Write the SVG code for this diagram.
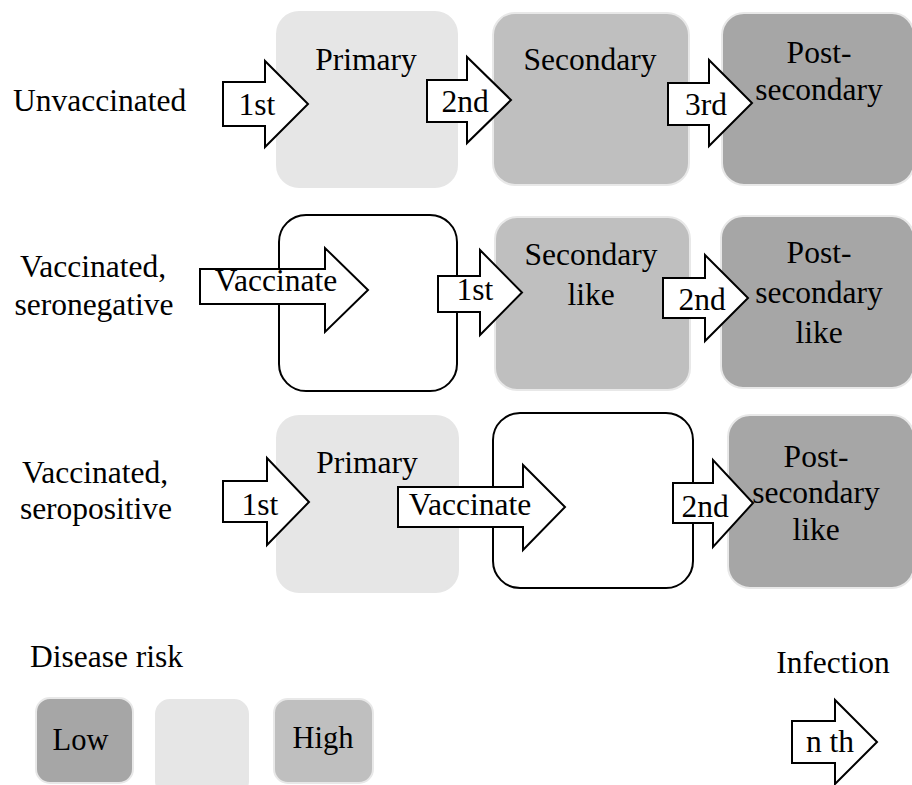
<svg xmlns="http://www.w3.org/2000/svg" width="912" height="785" viewBox="0 0 912 785" font-family="'Liberation Serif', serif" font-size="31.5">
<style>
.c{text-anchor:middle}
.lt{fill:#e6e6e6;stroke:#e6e6e6;stroke-width:2}
.md{fill:#bfbfbf;stroke:#e8e8e8;stroke-width:2}
.dk{fill:#a6a6a6;stroke:#e8e8e8;stroke-width:2}
.wh{fill:#fff;stroke:#000;stroke-width:2}
.ar{fill:#fff;stroke:#000;stroke-width:2;stroke-linejoin:miter}
</style>
<rect width="912" height="785" fill="#fff"/>

<g id="labels">
<text x="13" y="111">Unvaccinated</text>
<text class="c" x="93" y="277">Vaccinated,</text>
<text class="c" x="94" y="315">seronegative</text>
<text class="c" x="95" y="483">Vaccinated,</text>
<text class="c" x="96" y="519">seropositive</text>
</g>

<g id="r1-primary"><rect class="lt" x="277" y="12" width="180" height="175" rx="22"/><text class="c" x="366" y="70">Primary</text></g>
<g id="r1-secondary"><rect class="md" x="493" y="13" width="196" height="172" rx="22"/><text class="c" x="590" y="70">Secondary</text></g>
<g id="r1-post"><rect class="dk" x="722" y="13" width="192" height="172" rx="22"/><text class="c" x="819" y="63">Post-</text><text class="c" x="819" y="100">secondary</text></g>

<g id="r2-vacc"><rect class="wh" x="279" y="215" width="178" height="176" rx="27"/></g>
<g id="r2-secondary"><rect class="md" x="495" y="217" width="195" height="173" rx="22"/><text class="c" x="591" y="265">Secondary</text><text class="c" x="591" y="305">like</text></g>
<g id="r2-post"><rect class="dk" x="721" y="216" width="193" height="172" rx="22"/><text class="c" x="819" y="263">Post-</text><text class="c" x="819" y="303">secondary</text><text class="c" x="819" y="343">like</text></g>

<g id="r3-primary"><rect class="lt" x="277" y="416" width="181" height="176" rx="22"/><text class="c" x="367" y="473">Primary</text></g>
<g id="r3-vacc"><rect class="wh" x="493" y="413" width="200" height="175" rx="27"/></g>
<g id="r3-post"><rect class="dk" x="728" y="415" width="186" height="173" rx="22"/><text class="c" x="816" y="467">Post-</text><text class="c" x="816" y="503">secondary</text><text class="c" x="816" y="540">like</text></g>

<g id="connectors">
<g><polygon class="ar" points="223,82 265,82 265,61 308,104 265,147 265,126 223,126"/><text class="c" x="257" y="115">1st</text></g>
<g><polygon class="ar" points="427,80 467,80 467,57 511,100 467,143 467,122 427,122"/><text class="c" x="465" y="112">2nd</text></g>
<g><polygon class="ar" points="668,83 709,83 709,60 752,103 709,146 709,125 668,125"/><text class="c" x="706" y="115">3rd</text></g>

<g><polygon class="ar" points="200,269 325,269 325,248 368,290 325,332 325,304 200,304"/><text class="c" x="276" y="291">Vaccinate</text></g>
<g><polygon class="ar" points="438,276 480,276 480,250 522,292.5 480,335 480,312 438,312"/><text class="c" x="475" y="300">1st</text></g>
<g><polygon class="ar" points="663,278 705,278 705,255 748,298 705,341 705,318 663,318"/><text class="c" x="702" y="310">2nd</text></g>

<g><polygon class="ar" points="223,481 267,481 267,458 309,502 267,545 267,522 223,522"/><text class="c" x="260" y="515">1st</text></g>
<g><polygon class="ar" points="398,487 523,487 523,465 565,507 523,550 523,527 398,527"/><text class="c" x="470" y="515">Vaccinate</text></g>
<g><polygon class="ar" points="673,483 713,483 713,460 753,503 713,547 713,523 673,523"/><text class="c" x="705" y="517">2nd</text></g>
</g>

<g id="legend-risk">
<text x="30" y="667">Disease risk</text>
<rect class="dk" x="36" y="698" width="97" height="85" rx="14"/><text class="c" x="80.5" y="750" font-size="30.5">Low</text>
<rect class="lt" x="156" y="700" width="92" height="95" rx="14"/>
<rect class="md" x="274" y="699" width="99" height="84" rx="14"/><text class="c" x="323" y="748" font-size="30.5">High</text>
</g>

<g id="legend-infection">
<text class="c" x="833" y="673">Infection</text>
<polygon class="ar" points="792,721 835,721 835,700 877,742 835,784 835,763 792,763"/><text class="c" x="830" y="752">n th</text>
</g>
</svg>
